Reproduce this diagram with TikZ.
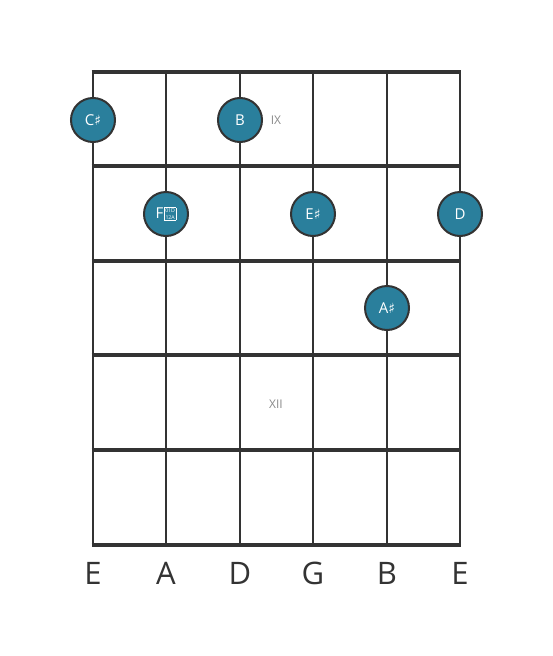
\documentclass[tikz,border=0pt]{standalone}
\usepackage{fontspec}
\setmainfont{Open Sans}
\newfontfamily\symfont{DejaVu Sans}
\definecolor{gridc}{HTML}{333333}
\definecolor{notefill}{HTML}{2A7F9C}
\definecolor{fretlbl}{HTML}{8A8A8A}
\newcommand{\shp}{{\symfont\fontsize{14}{14}\selectfont ♯}}
\newcommand{\tofu}{{\setlength{\fboxsep}{0.8pt}\setlength{\fboxrule}{0.6pt}\raisebox{-0.5pt}{\fbox{\fontsize{5.2}{5.6}\selectfont\shortstack{01D\\12A}}}}}
\begin{document}
\begin{tikzpicture}[x=1pt,y=-1pt,
  fretline/.style={line width=4pt,draw=gridc},
  strline/.style={line width=2.6pt,draw=gridc},
  note/.style={circle,draw=gridc,line width=2pt,fill=notefill,minimum size=44pt,inner sep=0pt,text=white,font=\fontsize{15}{15}\selectfont},
  fretnum/.style={text=fretlbl,font=\fontsize{12}{12}\selectfont},
  strname/.style={text=gridc,font=\fontsize{31}{31}\selectfont}]
\useasboundingbox (0,0) rectangle (553,656);
% strings
\foreach \i/\x in {1/93,2/166,3/240,4/313,5/387,6/460}{
  \coordinate (st\i) at (\x,72);
  \coordinate (sb\i) at (\x,545);
  \draw[strline] (st\i) -- (sb\i);
}
% frets
\foreach \j/\y in {0/72,1/166,2/261,3/355,4/450,5/545}{
  \coordinate (fl\j) at (91.7,\y);
  \coordinate (fr\j) at (461.3,\y);
  \draw[fretline] (fl\j) -- (fr\j);
}
% fret numbers
\node[fretnum] (ix) at (276,120) {IX};
\node[fretnum] (xii) at (276,404) {XII};
% notes
\node[note] (cs) at (93,120) {C\shp};
\node[note] (b) at (240,120) {B};
\node[note] (fx) at (166,214) {F\hspace{0.5pt}\tofu};
\node[note] (es) at (313,214) {E\shp};
\node[note] (d) at (460,214) {D};
\node[note] (as) at (387,308) {A\shp};
% string names
\foreach \i/\x/\n in {1/93/E,2/166/A,3/240/D,4/313/G,5/387/B,6/460/E}{
  \node[strname] (n\i) at (\x,573) {\n};
}
\end{tikzpicture}
\end{document}
